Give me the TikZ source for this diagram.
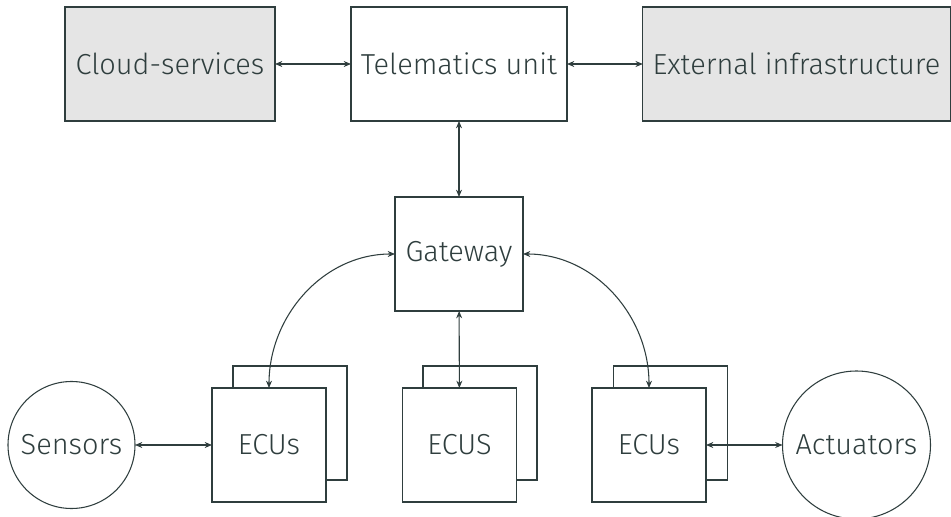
\documentclass[tikz,border=0pt]{standalone}
\usepackage{fontspec}
\setmainfont{Fira Sans}[UprightFont=* Light]
\usetikzlibrary{arrows.meta}

\definecolor{inkgrey}{HTML}{2F3E3E}
\definecolor{boxgrey}{HTML}{E5E5E5}

\tikzset{
  unit/.style={draw=inkgrey,line width=0.8pt,inner sep=0pt,outer sep=0pt,
    text=inkgrey,font=\fontsize{21.7}{26}\selectfont,fill=white},
  box/.style={unit,rectangle,minimum height=85.5pt},
  outside/.style={box,fill=boxgrey},
  ecu/.style={box,minimum width=85.5pt},
  sense/.style={unit,circle},
  link/.style={draw=inkgrey,line width=0.8pt,
    {Stealth[length=5.5pt,width=4.5pt]}-{Stealth[length=5.5pt,width=4.5pt]}}
}

\begin{document}
\begin{tikzpicture}[x=0.75pt,y=-0.75pt]
\useasboundingbox (0,0) rectangle (951,517);
% top row
\node[outside,minimum width=157.5pt] (cloud) at (170,64) {Cloud-services};
\node[box,minimum width=162pt] (tele) at (459,64) {Telematics unit};
\node[outside,minimum width=230.5pt] (infra) at (796.5,64) {External infrastructure};
% gateway
\node[box,minimum width=96pt] (gw) at (459,254) {Gateway};
% ECU stacks
\node[ecu] (ecuAback) at (290,423) {};
\node[ecu] (ecuA) at (269,445) {ECUs};
\node[ecu] (ecuBback) at (480,423) {};
\node[ecu] (ecuB) at (459.5,445) {ECUS};
\node[ecu] (ecuCback) at (670.5,423) {};
\node[ecu] (ecuC) at (649,445) {ECUs};
% sensors and actuators
\node[sense,minimum size=95.25pt] (sens) at (71.5,445) {Sensors};
\node[sense,minimum size=111pt] (act) at (856.5,445) {Actuators};
% connections
\draw[link] (cloud) -- (tele);
\draw[link] (tele) -- (infra);
\draw[link] (tele) -- (gw);
\draw[link] (gw) -- (ecuB);
\draw[link] (gw.west) to[out=180,in=90] (ecuA.north);
\draw[link] (gw.east) to[out=0,in=90] (ecuC.north);
\draw[link] (sens) -- (ecuA);
\draw[link] (ecuC) -- (act);
\end{tikzpicture}
\end{document}
